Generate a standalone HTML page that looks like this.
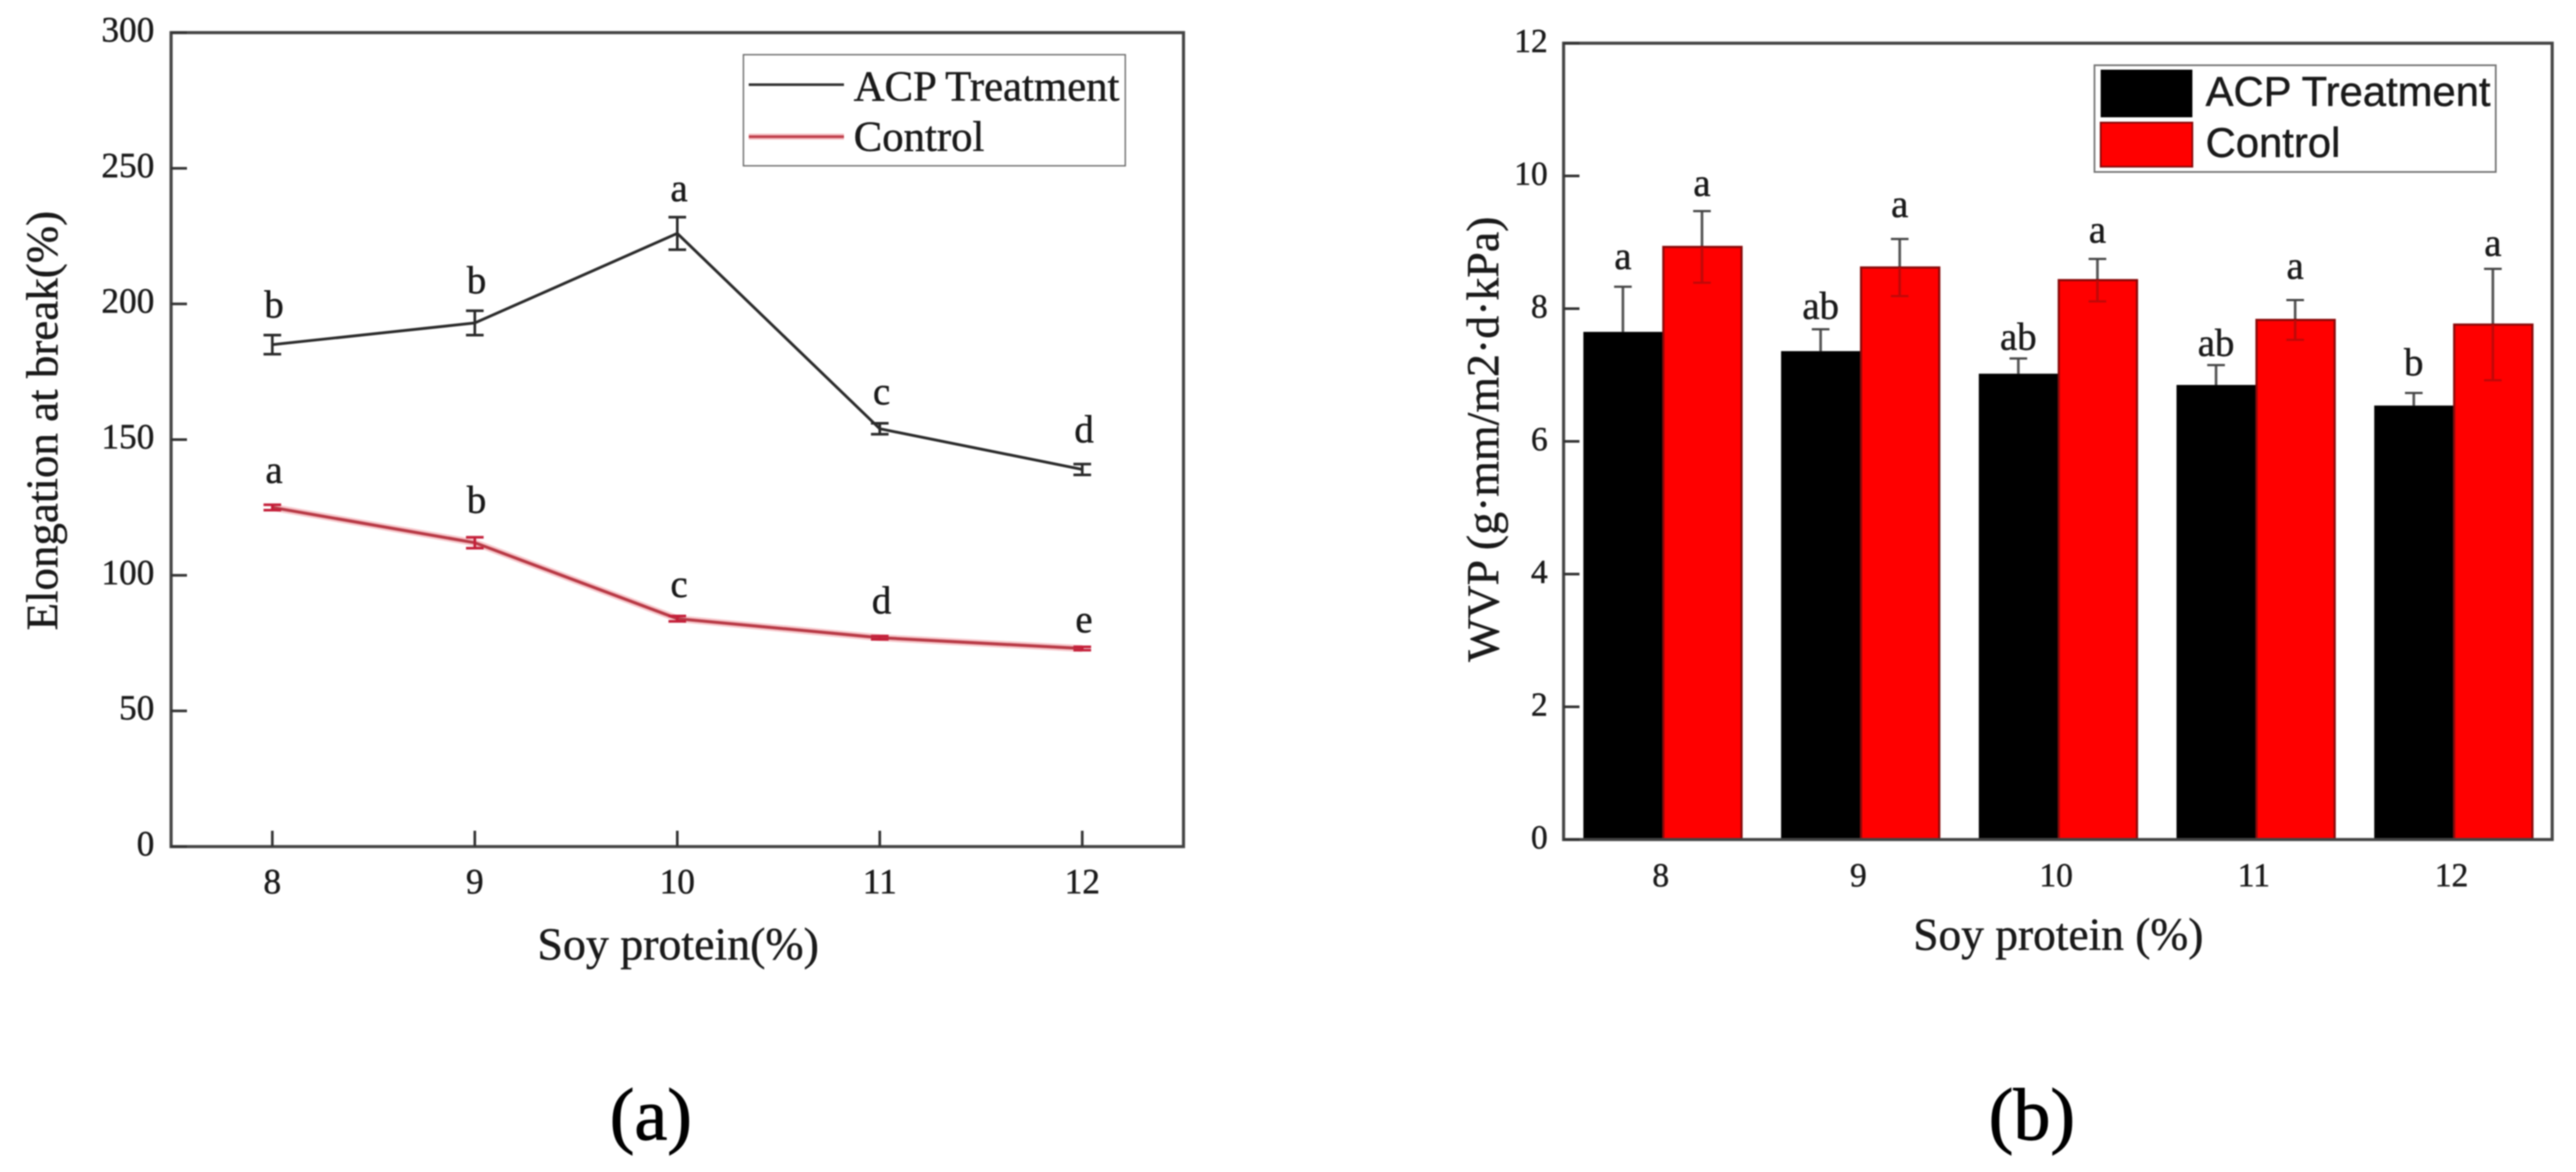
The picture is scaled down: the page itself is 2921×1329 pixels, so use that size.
<!DOCTYPE html>
<html lang="en">
<head>
<meta charset="utf-8">
<title>Elongation at break and WVP versus soy protein</title>
<style>
html,body{margin:0;padding:0;background:#fff;}
#figure{display:block;width:2921px;height:1329px;filter:blur(0.7px);}
text{font-family:"Liberation Serif",serif;fill:#1a1a1a;stroke:#1a1a1a;stroke-width:0.5px;}
.sans{font-family:"Liberation Sans",sans-serif;}
</style>
</head>
<body>
<svg id="figure" xmlns="http://www.w3.org/2000/svg" width="2921" height="1329" viewBox="0 0 2921 1329">
  <g id="chartA">
    <text x="769" y="1088" font-size="52" text-anchor="middle">Soy protein(%)</text>
    <text transform="translate(65,477) rotate(-90)" font-size="51" text-anchor="middle">Elongation at break(%)</text>
  </g>
  <g id="chartB">
    <text x="2334" y="1077" font-size="51.5" text-anchor="middle">Soy protein (%)</text>
    <text transform="translate(1699,498) rotate(-90)" font-size="52" text-anchor="middle">WVP (g·mm/m2·d·kPa)</text>
  </g>
  <g>
    <rect x="843" y="62" width="433" height="126" fill="#fff" stroke="#666" stroke-width="1.5"/>
    <line x1="849" y1="96" x2="957" y2="96" stroke="#333" stroke-width="3"/>
    <text x="968" y="114" font-size="48.5">ACP Treatment</text>
    <line x1="849" y1="155" x2="957" y2="155" stroke="#f5c0c5" stroke-width="7"/>
    <line x1="849" y1="155" x2="957" y2="155" stroke="#c0404c" stroke-width="3"/>
    <text x="968" y="171" font-size="48.5">Control</text>
  </g>
  <g>
    <rect x="2375" y="74" width="455" height="121" fill="#fff" stroke="#777" stroke-width="2"/>
    <rect x="2382" y="79" width="104" height="54" fill="#000"/>
    <text class="sans" x="2501" y="120" font-size="47.4">ACP Treatment</text>
    <rect x="2382" y="139" width="104" height="50" fill="#f00" stroke="#8a0a0a" stroke-width="2"/>
    <text class="sans" x="2501" y="178" font-size="47.4">Control</text>
  </g>
  <text x="738" y="1292" font-size="84" text-anchor="middle" style="fill:#000;stroke:#000;stroke-width:1px">(a)</text>
  <text x="2304" y="1292" font-size="84" text-anchor="middle" style="fill:#000;stroke:#000;stroke-width:1px">(b)</text>
</svg>
<script>
const categories = [8, 9, 10, 11, 12];
const yTicksA = [0, 50, 100, 150, 200, 250, 300];
const yTicksB = [0, 2, 4, 6, 8, 10, 12];

const acpElongation = [185, 193, 226, 154, 139];
const acpElongationErr = [3.5, 4.5, 6, 2, 2];
const acpElongationSig = ['b', 'b', 'a', 'c', 'd'];
const acpElongationSigAt = [195, 204, 238, 163, 149];

const controlElongation = [125, 112, 84, 77, 73];
const controlElongationErr = [1, 2, 1, 0.6, 0.6];
const controlElongationSig = ['a', 'b', 'c', 'd', 'e'];
const controlElongationSigAt = [134, 123, 92, 86, 79];

const acpWvp = [7.65, 7.36, 7.02, 6.85, 6.54];
const acpWvpErr = [0.68, 0.33, 0.23, 0.3, 0.19];
const acpWvpSig = ['a', 'ab', 'ab', 'ab', 'b'];
const acpWvpSigAt = [8.6, 7.85, 7.38, 7.29, 7.0];

const controlWvp = [8.93, 8.62, 8.43, 7.83, 7.76];
const controlWvpErr = [0.54, 0.43, 0.32, 0.3, 0.84];
const controlWvpSig = ['a', 'a', 'a', 'a', 'a'];
const controlWvpSigAt = [9.7, 9.38, 9.0, 8.45, 8.8];

const NS = 'http://www.w3.org/2000/svg';
const frameA = {left: 194, right: 1342, top: 37, bottom: 960};
const frameB = {left: 1773, right: 2894, top: 49, bottom: 952};
const xA = v => frameA.left + (v - 7.5) / 5 * (frameA.right - frameA.left);
const yA = v => frameA.bottom - v / 300 * (frameA.bottom - frameA.top);
const xB = v => frameB.left + (v - 7.5) / 5 * (frameB.right - frameB.left);
const yB = v => frameB.bottom - v / 12 * (frameB.bottom - frameB.top);

function mk(tag, attrs, parent) {
  const node = document.createElementNS(NS, tag);
  for (const k in attrs) node.setAttribute(k, attrs[k]);
  parent.appendChild(node);
  return node;
}
const chartA = document.getElementById('chartA');
const chartB = document.getElementById('chartB');
let el;

/* ---------- chart (b): bars ---------- */
const barW = 0.4;
categories.forEach((c, i) => {
  const top1 = yB(acpWvp[i]);
  const top2 = yB(controlWvp[i]);
  const w = xB(barW) - xB(0);

  el = mk('line', {x1: xB(c - barW / 2), x2: xB(c - barW / 2), y1: yB(acpWvp[i] + acpWvpErr[i]), y2: top1, stroke: '#555', 'stroke-width': 3}, chartB);
  
  
  el = mk('line', {x1: xB(c - barW / 2) - 10, x2: xB(c - barW / 2) + 10, y1: yB(acpWvp[i] + acpWvpErr[i]), y2: yB(acpWvp[i] + acpWvpErr[i]), stroke: '#444', 'stroke-width': 2.5}, chartB);
  
  

  el = mk('line', {x1: xB(c + barW / 2), x2: xB(c + barW / 2), y1: yB(controlWvp[i] + controlWvpErr[i]), y2: top2, stroke: '#555', 'stroke-width': 3}, chartB);
  
  
  el = mk('line', {x1: xB(c + barW / 2) - 10, x2: xB(c + barW / 2) + 10, y1: yB(controlWvp[i] + controlWvpErr[i]), y2: yB(controlWvp[i] + controlWvpErr[i]), stroke: '#444', 'stroke-width': 2.5}, chartB);
  
  

  el = mk('rect', {x: xB(c) - w, y: top1, width: w, height: yB(0) - top1, fill: '#000'}, chartB);
  
  

  el = mk('rect', {x: xB(c) + 1, y: top2, width: w - 1, height: yB(0) - top2, fill: '#f00', stroke: '#8a0a0a', 'stroke-width': 2.5}, chartB);
  
  

  el = mk('line', {x1: xB(c + barW / 2), x2: xB(c + barW / 2), y1: top2, y2: yB(controlWvp[i] - controlWvpErr[i]), stroke: '#c00808', 'stroke-width': 3}, chartB);
  
  
  el = mk('line', {x1: xB(c + barW / 2) - 10, x2: xB(c + barW / 2) + 10, y1: yB(controlWvp[i] - controlWvpErr[i]), y2: yB(controlWvp[i] - controlWvpErr[i]), stroke: '#c00808', 'stroke-width': 2.5}, chartB);
  
  

  el = mk('text', {x: xB(c - barW / 2), y: yB(acpWvpSigAt[i]), 'font-size': 44, 'text-anchor': 'middle'}, chartB);
  el.textContent = acpWvpSig[i];
  
  

  el = mk('text', {x: xB(c + barW / 2), y: yB(controlWvpSigAt[i]), 'font-size': 44, 'text-anchor': 'middle'}, chartB);
  el.textContent = controlWvpSig[i];
  
  

  el = mk('text', {x: xB(c) - 2, y: frameB.bottom + 53, 'font-size': 38, 'text-anchor': 'middle'}, chartB);
  el.textContent = c;
  
  
});

el = mk('rect', {x: frameB.left, y: frameB.top, width: frameB.right - frameB.left, height: frameB.bottom - frameB.top, fill: 'none', stroke: '#444', 'stroke-width': 3.5}, chartB);



yTicksB.forEach(t => {
  el = mk('line', {x1: frameB.left, x2: frameB.left + 18, y1: yB(t), y2: yB(t), stroke: '#333', 'stroke-width': 3}, chartB);
  
  
  el = mk('text', {x: frameB.left - 18, y: yB(t) + 10, 'font-size': 38, 'text-anchor': 'end'}, chartB);
  el.textContent = t;
  
  
});

/* ---------- chart (a): lines ---------- */
el = mk('rect', {x: frameA.left, y: frameA.top, width: frameA.right - frameA.left, height: frameA.bottom - frameA.top, fill: 'none', stroke: '#444', 'stroke-width': 3.5}, chartA);



yTicksA.forEach(t => {
  el = mk('line', {x1: frameA.left, x2: frameA.left + 18, y1: yA(t), y2: yA(t), stroke: '#333', 'stroke-width': 3}, chartA);
  
  
  el = mk('text', {x: frameA.left - 19, y: yA(t) + 10, 'font-size': 40, 'text-anchor': 'end'}, chartA);
  el.textContent = t;
  
  
});

categories.forEach(c => {
  el = mk('line', {x1: xA(c), x2: xA(c), y1: frameA.bottom, y2: frameA.bottom - 18, stroke: '#333', 'stroke-width': 3}, chartA);
  
  
  el = mk('text', {x: xA(c), y: frameA.bottom + 53, 'font-size': 40, 'text-anchor': 'middle'}, chartA);
  el.textContent = c;
  
  
});

const ptsAcp = categories.map((c, i) => xA(c) + ',' + yA(acpElongation[i])).join(' ');
const ptsControl = categories.map((c, i) => xA(c) + ',' + yA(controlElongation[i])).join(' ');

el = mk('polyline', {points: ptsControl, fill: 'none', stroke: '#f7c8cc', 'stroke-width': 8, 'stroke-linejoin': 'round'}, chartA);


el = mk('polyline', {points: ptsControl, fill: 'none', stroke: '#b83a46', 'stroke-width': 3.5}, chartA);


el = mk('polyline', {points: ptsAcp, fill: 'none', stroke: '#2a2a2a', 'stroke-width': 3.2}, chartA);



categories.forEach((c, i) => {
  const x = xA(c);
  const hi = yA(acpElongation[i] + acpElongationErr[i]);
  const lo = yA(acpElongation[i] - acpElongationErr[i]);
  el = mk('path', {d: 'M' + (x - 10) + ' ' + hi + 'H' + (x + 10) + 'M' + x + ' ' + hi + 'V' + lo + 'M' + (x - 10) + ' ' + lo + 'H' + (x + 10), fill: 'none', stroke: '#2a2a2a', 'stroke-width': 3}, chartA);
  
  

  const hi2 = yA(controlElongation[i] + controlElongationErr[i]);
  const lo2 = yA(controlElongation[i] - controlElongationErr[i]);
  el = mk('path', {d: 'M' + (x - 10) + ' ' + hi2 + 'H' + (x + 10) + 'M' + x + ' ' + hi2 + 'V' + lo2 + 'M' + (x - 10) + ' ' + lo2 + 'H' + (x + 10), fill: 'none', stroke: '#c4203a', 'stroke-width': 3}, chartA);
  
  

  el = mk('text', {x: x + 2, y: yA(acpElongationSigAt[i]), 'font-size': 44, 'text-anchor': 'middle'}, chartA);
  el.textContent = acpElongationSig[i];
  
  

  el = mk('text', {x: x + 2, y: yA(controlElongationSigAt[i]), 'font-size': 44, 'text-anchor': 'middle'}, chartA);
  el.textContent = controlElongationSig[i];
  
  
});
</script>
</body>
</html>
